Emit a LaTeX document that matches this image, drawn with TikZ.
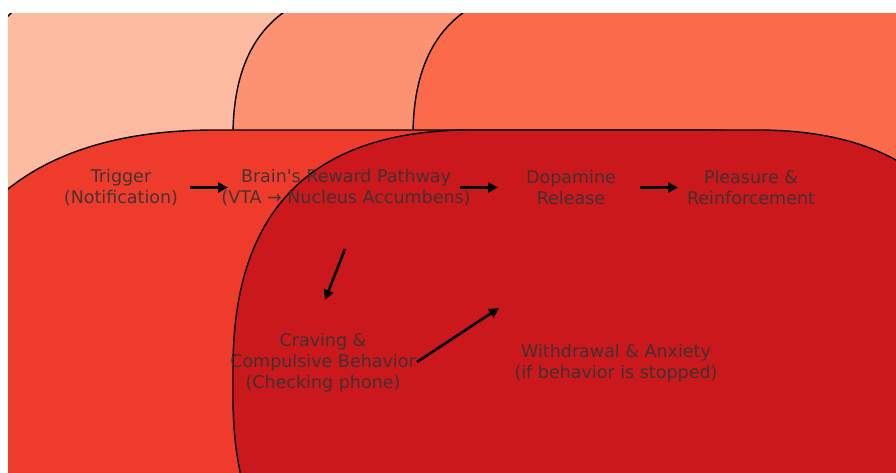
\documentclass[tikz,border=0pt]{standalone}
\usepackage{fontspec}
\setmainfont{DejaVu Sans}
\usetikzlibrary{arrows.meta}
\definecolor{rA}{HTML}{FCBBA1}
\definecolor{rB}{HTML}{FC9272}
\definecolor{rC}{HTML}{FB6A4A}
\definecolor{rD}{HTML}{EF3B2C}
\definecolor{rE}{HTML}{CB181D}
\definecolor{txtgray}{HTML}{333333}
% x0 y0 x1 y1 r colour  (quadratic corners, as matplotlib "round")
\newcommand\qroundbox[6]{%
  \path[boxline, fill=#6] ({#1},{#2+#5}) .. controls ({#1},{#2+#5/3}) and ({#1+#5/3},{#2}) .. ({#1+#5},{#2})
    -- ({#3-#5},{#2}) .. controls ({#3-#5/3},{#2}) and ({#3},{#2+#5/3}) .. ({#3},{#2+#5})
    -- ({#3},{#4-#5}) .. controls ({#3},{#4-#5/3}) and ({#3-#5/3},{#4}) .. ({#3-#5},{#4})
    -- ({#1+#5},{#4}) .. controls ({#1+#5/3},{#4}) and ({#1},{#4-#5/3}) .. ({#1},{#4-#5}) -- cycle;}
\begin{document}
\begin{tikzpicture}[x=1pt, y=-1pt,
  boxline/.style={draw=black, line width=1.4pt},
  lbl/.style={text=txtgray, text opacity=0.9, align=center, inner sep=0pt,
              font=\fontsize{17.5}{21}\selectfont},
  arr/.style={-{Triangle[length=10pt,width=10pt]}, line width=2.6pt, draw=black}]
\useasboundingbox (0,0) rectangle (896,472);
\fill[white] (0,0) rectangle (896,472);
\begin{scope}
  \clip (8,13) rectangle (896,472);
  \qroundbox{-28}{-23}{420}{520}{150}{rA}
  \qroundbox{233}{-14}{640}{520}{150}{rB}
  \qroundbox{413}{-14}{1100}{520}{150}{rC}
  \qroundbox{-85}{130}{1000}{900}{300}{rD}
  \qroundbox{233}{130}{995}{635}{238}{rE}
\end{scope}
\node[lbl] (trig)  at (121,187.5) {Trigger\\(Notification)};
\node[lbl] (brain) at (346,187.5) {Brain\textquotesingle s Reward Pathway\\(VTA → Nucleus Accumbens)};
\node[lbl] (dopa)  at (571,187.5) {Dopamine\\Release};
\node[lbl] (pleas) at (751,187.5) {Pleasure \&\\Reinforcement};
\node[lbl] (crave) at (323,363) {Craving \&\\Compulsive Behavior\\(Checking phone)};
\node[lbl] (withd) at (616,363) {Withdrawal \& Anxiety\\(if behavior is stopped)};
\coordinate (bcs) at (345,249);
\coordinate (bce) at (325,300);
\coordinate (cws) at (417,362);
\coordinate (cwe) at (499,308);
\draw[arr, shorten <=69pt, shorten >=118pt] (trig.center) -- (brain.center);
\draw[arr, shorten <=114pt, shorten >=73pt] (brain.center) -- (dopa.center);
\draw[arr, shorten <=69pt, shorten >=73pt] (dopa.center) -- (pleas.center);
\draw[arr] (bcs) -- (bce);
\draw[arr] (cws) -- (cwe);
\end{tikzpicture}
\end{document}
